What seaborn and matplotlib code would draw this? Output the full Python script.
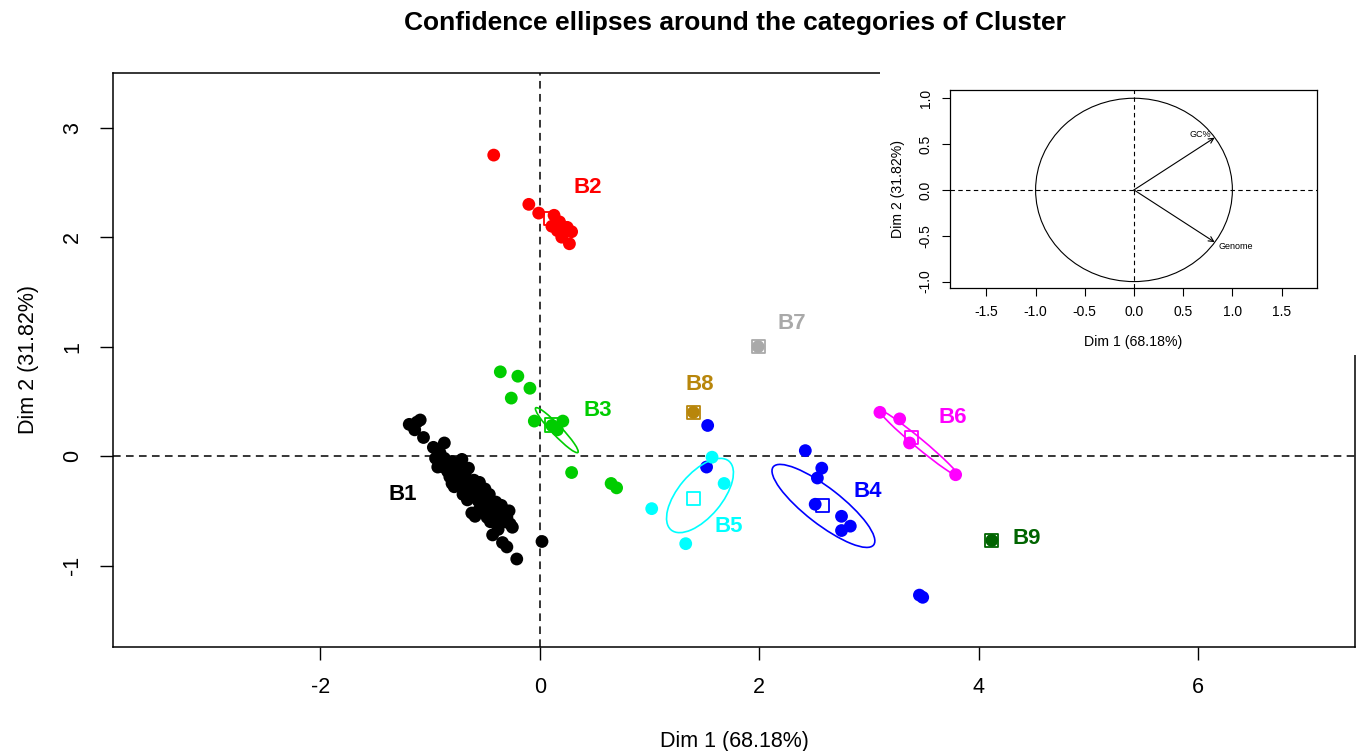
import numpy as np
import pandas as pd
import matplotlib
matplotlib.use("Agg")
import matplotlib.pyplot as plt
import seaborn as sns
from matplotlib.patches import Ellipse, Rectangle, Circle

sns.set_style("white")
plt.rcParams['font.family'] = ['Liberation Sans', 'DejaVu Sans']
plt.rcParams['text.color'] = 'black'
plt.rcParams['axes.labelcolor'] = 'black'
plt.rcParams['xtick.color'] = 'black'
plt.rcParams['ytick.color'] = 'black'
plt.rcParams['axes.unicode_minus'] = False

# ---------------- data ----------------
b1_x = [-1.19, -1.09, -1.12, -1.14, -1.06, -0.97, -0.87, -0.91, -0.95, -0.93,
        -0.87, -0.80, -0.71, -0.65, -0.88, -0.84, -0.82, -0.78, -0.76, -0.74,
        -0.72, -0.70, -0.68, -0.66, -0.64, -0.62, -0.60, -0.58, -0.56, -0.54,
        -0.52, -0.50, -0.48, -0.46, -0.44, -0.42, -0.40, -0.38, -0.36, -0.34,
        -0.32, -0.30, -0.27, -0.25, -0.59, -0.62, -0.43, -0.38, -0.34, -0.30,
        -0.21, 0.02, -0.78, -0.70, -0.55, -0.50, -0.85, -0.45,
        -0.90, -0.75, -0.68, -0.60, -0.52, -0.46, -0.40, -0.35, -0.80, -0.66,
        -0.56, -0.48, -0.28]
b1_y = [0.29, 0.33, 0.31, 0.24, 0.17, 0.08, 0.12, 0.03, -0.02, -0.10,
        -0.02, -0.05, -0.03, -0.11, -0.10, -0.14, -0.19, -0.12, -0.20, -0.16,
        -0.25, -0.21, -0.29, -0.24, -0.33, -0.28, -0.37, -0.32, -0.41, -0.36,
        -0.44, -0.40, -0.48, -0.43, -0.52, -0.47, -0.55, -0.50, -0.58, -0.53,
        -0.60, -0.56, -0.62, -0.65, -0.55, -0.52, -0.72, -0.67, -0.79, -0.83,
        -0.94, -0.78, -0.28, -0.35, -0.24, -0.30, -0.05, -0.60,
        -0.05, -0.08, -0.17, -0.22, -0.30, -0.35, -0.42, -0.45, -0.25, -0.40,
        -0.50, -0.56, -0.50]

b2_x = [-0.42, -0.10, -0.01, 0.13, 0.11, 0.25, 0.29, 0.20, 0.27, 0.16, 0.18]
b2_y = [2.75, 2.30, 2.22, 2.20, 2.10, 2.09, 2.05, 2.00, 1.94, 2.06, 2.14]

b3_x = [-0.36, -0.20, -0.09, -0.26, -0.05, 0.11, 0.21, 0.16, 0.29, 0.65, 0.70]
b3_y = [0.77, 0.73, 0.62, 0.53, 0.32, 0.28, 0.32, 0.24, -0.15, -0.25, -0.29]

b4_x = [1.53, 1.52, 2.42, 2.57, 2.53, 2.51, 2.75, 2.83, 2.75, 3.46, 3.49]
b4_y = [0.28, -0.10, 0.05, -0.11, -0.20, -0.44, -0.55, -0.64, -0.68, -1.27, -1.29]

b5_x = [1.57, 1.68, 1.02, 1.33]
b5_y = [-0.01, -0.25, -0.48, -0.80]

b6_x = [3.10, 3.28, 3.37, 3.79]
b6_y = [0.40, 0.34, 0.12, -0.17]

b7_x = [1.99]
b7_y = [1.00]
b8_x = [1.40]
b8_y = [0.40]
b9_x = [4.12]
b9_y = [-0.77]

clusters = ["B1", "B2", "B3", "B4", "B5", "B6", "B7", "B8", "B9"]
colors = ["#000000", "#FF0000", "#00CD00", "#0000FF", "#00FFFF",
          "#FF00FF", "#A9A9A9", "#B8860B", "#006400"]

# confidence ellipses: centre x, centre y, semi-major, semi-minor, angle (deg)
ell_cluster = ["B3", "B4", "B5", "B6"]
ell_cx = [0.155, 2.585, 1.46, 3.455]
ell_cy = [0.237, -0.455, -0.36, 0.119]
ell_a = [0.28, 0.58, 0.41, 0.463]
ell_b = [0.045, 0.165, 0.20, 0.042]
ell_ang = [-46.6, -37.9, 50.0, -39.8]

# label anchor positions
lab_x = [-1.25, 0.44, 0.53, 2.99, 1.72, 3.76, 2.30, 1.46, 4.44]
lab_y = [-0.35, 2.45, 0.42, -0.32, -0.64, 0.35, 1.21, 0.65, -0.75]

# variable factor map
var_names = ["GC%", "Genome"]
var_d1 = [0.82, 0.82]
var_d2 = [0.57, -0.57]

# ---------------- assemble ----------------
xs = [b1_x, b2_x, b3_x, b4_x, b5_x, b6_x, b7_x, b8_x, b9_x]
ys = [b1_y, b2_y, b3_y, b4_y, b5_y, b6_y, b7_y, b8_y, b9_y]
df = pd.concat([pd.DataFrame({"x": x, "y": y, "cluster": c})
                for x, y, c in zip(xs, ys, clusters)], ignore_index=True)
palette = dict(zip(clusters, colors))
cent = df.groupby("cluster", sort=False)[["x", "y"]].mean().reset_index()

W, H = 1357, 751
fig = plt.figure(figsize=(W / 100, H / 100), dpi=100)
ax = fig.add_axes([113 / W, 1 - 647 / H, (1355 - 113) / W, (647 - 73) / H])

dash = (0, (5, 3.5))
ax.axhline(0, color="black", lw=1.1, ls=dash, zorder=1)
ax.axvline(0, color="black", lw=1.1, ls=dash, zorder=1)

for _, r in cent.iterrows():
    ax.scatter(r["x"], r["y"], marker="s", s=90, facecolors="none",
               edgecolors=palette[r["cluster"]], linewidths=1.3, zorder=2)

sns.scatterplot(data=df, x="x", y="y", hue="cluster", palette=palette,
                s=85, linewidth=0, legend=False, ax=ax, zorder=3)

for c, cx, cy, a, b, ang in zip(ell_cluster, ell_cx, ell_cy, ell_a, ell_b, ell_ang):
    ax.add_patch(Ellipse((cx, cy), 2 * a, 2 * b, angle=ang, fill=False,
                         edgecolor=palette[c], lw=1.2, zorder=4))

for c, lx, ly in zip(clusters, lab_x, lab_y):
    ax.text(lx, ly, c, color=palette[c], fontsize=16, fontweight="bold",
            ha="center", va="center", zorder=5)

ax.set_xlim(-3.89, 7.43)
ax.set_ylim(-1.744, 3.50)
ax.set_xticks([-2, 0, 2, 4, 6])
ax.set_yticks([-1, 0, 1, 2, 3])
ax.tick_params(axis="both", direction="out", length=9.4, width=1.0,
               labelsize=15.5, pad=12, colors="black", bottom=True, left=True)
for lab in ax.get_yticklabels():
    lab.set_rotation(90)
    lab.set_va("center")
for s in ax.spines.values():
    s.set_color("black")
    s.set_linewidth(1.1)
ax.set_xlabel("Dim 1 (68.18%)", fontsize=15.5, labelpad=24)
ax.set_ylabel("Dim 2 (31.82%)", fontsize=15.5, labelpad=17)

fig.text(735 / W, 1 - 23 / H, "Confidence ellipses around the categories of Cluster",
         ha="center", va="center", fontsize=19, fontweight="bold")

# ---------------- inset: variables factor map ----------------
fig.patches.append(Rectangle((880 / W, 1 - 355 / H), (W - 880) / W, (355 - 72) / H,
                             transform=fig.transFigure, facecolor="white",
                             edgecolor="none", zorder=2))
iax = fig.add_axes([950 / W, 1 - 288 / H, (1317 - 950) / W, (288 - 90) / H])
iax.set_zorder(5)
iax.set_xlim(-1.87, 1.86)
iax.set_ylim(-1.07, 1.09)
iax.add_patch(Circle((0, 0), 1.0, fill=False, edgecolor="black", lw=0.8))
idash = (0, (4, 3))
iax.axhline(0, color="black", lw=0.8, ls=idash)
iax.axvline(0, color="black", lw=0.8, ls=idash)
for name, d1, d2 in zip(var_names, var_d1, var_d2):
    iax.annotate("", xy=(d1, d2), xytext=(0, 0),
                 arrowprops=dict(arrowstyle="->", lw=0.8, color="black",
                                 mutation_scale=9, shrinkA=0, shrinkB=0))
iax.text(0.67, 0.60, var_names[0], fontsize=6.5, ha="center", va="center")
iax.text(1.03, -0.62, var_names[1], fontsize=6.5, ha="center", va="center")
iax.set_xticks([-1.5, -1.0, -0.5, 0.0, 0.5, 1.0, 1.5])
iax.set_yticks([-1.0, -0.5, 0.0, 0.5, 1.0])
iax.set_xticklabels(["-1.5", "-1.0", "-0.5", "0.0", "0.5", "1.0", "1.5"])
iax.set_yticklabels(["-1.0", "-0.5", "0.0", "0.5", "1.0"])
iax.tick_params(axis="both", direction="out", length=5.5, width=0.8,
                labelsize=10, pad=7, colors="black", bottom=True, left=True)
for lab in iax.get_yticklabels():
    lab.set_rotation(90)
    lab.set_va("center")
for s in iax.spines.values():
    s.set_color("black")
    s.set_linewidth(0.9)
iax.set_xlabel("Dim 1 (68.18%)", fontsize=10.2, labelpad=11)
iax.set_ylabel("Dim 2 (31.82%)", fontsize=10.2, labelpad=10)

fig.savefig("out.png", dpi=100, facecolor="white")
